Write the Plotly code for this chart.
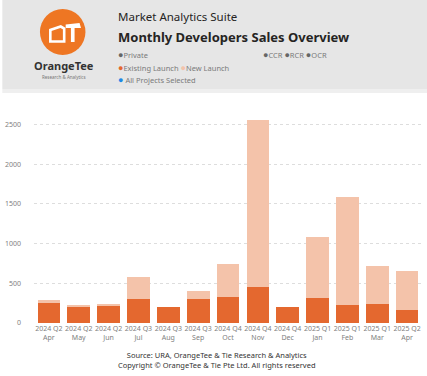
import plotly.graph_objects as go

months = ["Apr", "May", "Jun", "Jul", "Aug", "Sep", "Oct", "Nov", "Dec", "Jan", "Feb", "Mar", "Apr"]
quarters = ["2024 Q2", "2024 Q2", "2024 Q2", "2024 Q3", "2024 Q3", "2024 Q3",
            "2024 Q4", "2024 Q4", "2024 Q4", "2025 Q1", "2025 Q1", "2025 Q1", "2025 Q2"]
existing_launch = [247, 209, 226, 306, 205, 306, 327, 448, 201, 318, 222, 243, 163]
new_launch = [46, 6, 4, 268, 0, 92, 418, 2107, 0, 762, 1369, 481, 494]
y_ticks = [0, 500, 1000, 1500, 2000, 2500]

W, H = 427, 376
ML, MR, MT, MB = 30, 5, 115, 53
PW, PH = W - ML - MR, H - MT - MB

def px(x):
    return (x - ML) / PW

def py(y):
    return (H - MB - y) / PH

def path(pts, close=True):
    s = " ".join(("M" if i == 0 else "L") + f" {px(x):.5f},{py(y):.5f}" for i, (x, y) in enumerate(pts))
    return s + (" Z" if close else "")

cats = [f"{q}<br>{m}" for q, m in zip(quarters, months)]
xidx = list(range(len(cats)))

DARK = "#E4682F"
LIGHT = "#F4C3AA"
FONT = "Noto Sans"

fig = go.Figure()
fig.add_trace(go.Bar(x=xidx, y=existing_launch, marker=dict(color=DARK, line=dict(width=0)), name="Existing Launch"))
fig.add_trace(go.Bar(x=xidx, y=new_launch, marker=dict(color=LIGHT, line=dict(width=0)), name="New Launch"))

shapes = [
    dict(type="rect", xref="paper", yref="paper", x0=px(-2), x1=px(W + 2), y0=py(89), y1=py(-2),
         fillcolor="#E6E6E6", line=dict(width=0), layer="below"),
    dict(type="rect", xref="paper", yref="paper", x0=px(-2), x1=px(W + 2), y0=py(93), y1=py(89),
         fillcolor="#EFEFEF", line=dict(width=0), layer="below"),
    dict(type="circle", xref="paper", yref="paper", x0=px(36), x1=px(82), y0=py(55), y1=py(9),
         fillcolor="#EE7623", line=dict(width=0)),
    # logo glyph: house outline
    dict(type="path", xref="paper", yref="paper",
         path=path([(46.5, 41.5), (46.5, 30), (57, 26.5), (60.5, 28.5), (60.5, 41.5)]),
         line=dict(color="white", width=2.6), fillcolor="rgba(0,0,0,0)"),
    # logo glyph: T
    dict(type="path", xref="paper", yref="paper",
         path=path([(62, 24.5), (76, 23), (77.5, 28), (71, 28), (71, 42), (67.3, 42), (67.3, 28), (62, 28)]),
         line=dict(width=0), fillcolor="white"),
]

def ann(x, y, text, size, color="#333333", xanchor="left", bold=False, family=FONT):
    return dict(xref="paper", yref="paper", x=px(x), y=py(y), text=(f"<b>{text}</b>" if bold else text),
                showarrow=False, xanchor=xanchor, yanchor="middle",
                font=dict(size=size, color=color, family=family))

dot = lambda c: f"<span style='color:{c};font-size:9px'>●</span>"
annotations = [
    ann(60, 66, "<b>OrangeTee</b>", 11, "#333333", "center"),
    ann(60, 77, "Research &amp; Analytics", 4.5, "#777777", "center"),
    ann(113, 17, "Market Analytics Suite", 11.5, "#252423"),
    ann(113, 37, "Monthly Developers Sales Overview", 13, "#252423", bold=True),
    ann(113, 54.5, dot("#666666") + "Private", 7.5, "#7A7A7A"),
    ann(259, 54.5, dot("#666666") + "CCR " + dot("#666666") + "RCR " + dot("#666666") + "OCR", 7.5, "#7A7A7A"),
    ann(113, 68, dot(DARK) + "Existing Launch " + dot(LIGHT) + "New Launch", 7.5, "#7A7A7A"),
    ann(113, 80, dot("#1E88E5") + " All Projects Selected", 7.5, "#7A7A7A"),
    dict(xref="paper", yref="paper", x=px(215), y=py(360), xanchor="center", yanchor="middle",
         showarrow=False, align="center",
         text="Source: URA, OrangeTee &amp; Tie Research &amp; Analytics<br>"
              "Copyright © OrangeTee &amp; Tie Pte Ltd. All rights reserved",
         font=dict(size=7.5, color="#333333", family=FONT)),
]

fig.update_layout(
    width=W, height=H,
    margin=dict(l=ML, r=MR, t=MT, b=MB),
    paper_bgcolor="white", plot_bgcolor="white",
    barmode="stack", bargap=0.24, showlegend=False,
    font=dict(family=FONT, color="#777777"),
    shapes=shapes, annotations=annotations,
    xaxis=dict(tickmode="array", tickvals=xidx, ticktext=cats, range=[-0.5, len(cats) - 0.5],
               showgrid=False, zeroline=False, showline=False, ticks="",
               tickfont=dict(size=7, color="#808080", family=FONT)),
    yaxis=dict(range=[0, 2620], tickvals=y_ticks, showgrid=True, gridcolor="#DDDDDD",
               griddash="dot", gridwidth=1, zeroline=False, showline=False, ticks="",
               tickfont=dict(size=7, color="#808080", family=FONT), ticklabelstandoff=12),
)

fig.write_html("out.html", config={"displayModeBar": False},
               post_script="document.body.style.margin='0';document.body.style.padding='0';document.body.style.overflow='hidden';")
